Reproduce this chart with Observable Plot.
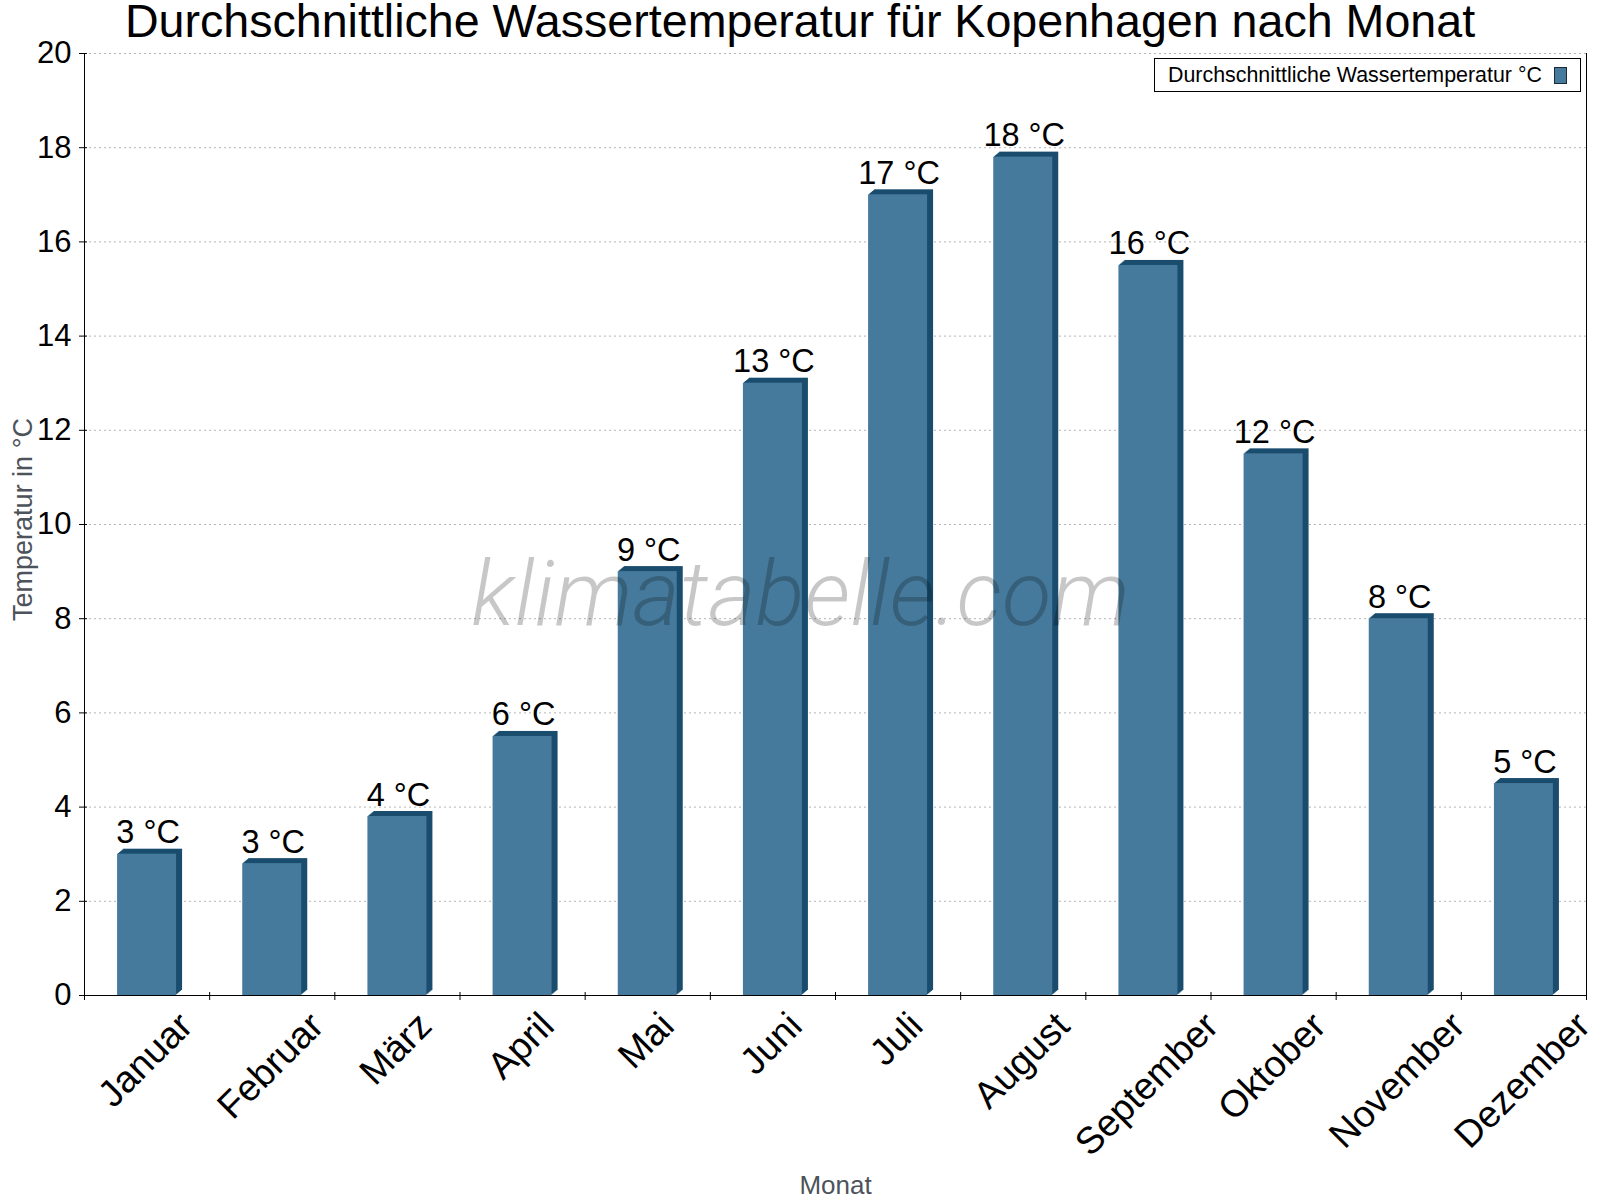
<!DOCTYPE html>
<html>
<head>
<meta charset="utf-8">
<script src="https://cdn.jsdelivr.net/npm/d3@7"></script>
<script src="https://cdn.jsdelivr.net/npm/@observablehq/plot@0.6"></script>
<style>
html, body { margin: 0; padding: 0; background: #fff; }
#wrap { position: relative; width: 1600px; height: 1200px; font-family: "Liberation Sans", Arial, Helvetica, sans-serif; }
#title { position: absolute; left: 0; top: 0; width: 1600px; text-align: center; font-size: 46.6px; line-height: 42px; color: #000; z-index: 2; white-space: nowrap; }
#chart { position: absolute; left: 0; top: 0; }
#legend { position: absolute; left: 1154px; top: 58px; width: 427px; height: 34px; box-sizing: border-box; border: 1px solid #000; background: #fff; display: flex; align-items: center; justify-content: space-between; padding: 0 13px 0 13px; font-size: 21.4px; color: #000; z-index: 2; }
#legend .sw { width: 13px; height: 17px; box-sizing: border-box; background: #467a9c; border: 1px solid #1b2a35; }
</style>
</head>
<body>
<div id="wrap">
  <div id="title"></div>
  <div id="chart"></div>
  <div id="legend"><span id="legtext"></span><span class="sw"></span></div>
</div>
<script>
const titleText = "Durchschnittliche Wassertemperatur für Kopenhagen nach Monat";
const seriesName = "Durchschnittliche Wassertemperatur °C";
const yLabel = "Temperatur in °C";
const xLabel = "Monat";
const watermark = "klimatabelle.com";
const months = ["Januar", "Februar", "März", "April", "Mai", "Juni", "Juli", "August", "September", "Oktober", "November", "Dezember"];
const waterTemp = [3.0, 2.8, 3.8, 5.5, 9.0, 13.0, 17.0, 17.8, 15.5, 11.5, 8.0, 4.5];
const yTicks = [0, 2, 4, 6, 8, 10, 12, 14, 16, 18, 20];

const frontColor = "#467a9c";
const sideColor = "#1a4c6e";
const axisTextColor = "#4d535a";
const monthFont = 37.5;

document.getElementById("title").textContent = titleText;
document.getElementById("legtext").textContent = seriesName;

const data = months.map((m, i) => ({month: m, temp: waterTemp[i]}));

const W = 1600, H = 1200, mL = 84, mR = 14, mT = 53, mB = 205;
const bw = (W - mL - mR) / months.length;
const inset = (bw - 59) / 2;

const depthSteps = [1, 2, 3, 4, 5, 6];

const chart = Plot.plot({
  width: W,
  height: H,
  marginLeft: mL,
  marginRight: mR,
  marginTop: mT,
  marginBottom: mB,
  style: {fontFamily: '"Liberation Sans", Arial, Helvetica, sans-serif', background: "transparent", color: "#000", overflow: "visible"},
  x: {domain: months, padding: 0, round: false, axis: null},
  y: {domain: [0, 20], axis: null},
  marks: [
    Plot.gridY({ticks: yTicks, stroke: "#b4b4b4", strokeOpacity: 1, strokeDasharray: "2,3"}),
    ...depthSteps.map(k => Plot.barY(data, {x: "month", y: "temp", fill: sideColor, insetLeft: inset, insetRight: inset, dx: k, dy: -k * 5 / 6})),
    Plot.barY(data, {x: "month", y: "temp", fill: frontColor, insetLeft: inset, insetRight: inset}),
    Plot.ruleY([0], {stroke: "#000"}),
    Plot.ruleX([months[0]], {x: d => d, dx: -bw / 2, insetBottom: -5, stroke: "#000"}),
    Plot.ruleX([months[months.length - 1]], {x: d => d, dx: bw / 2, insetBottom: -5, stroke: "#000"}),
    Plot.axisY({ticks: yTicks, tickSize: 8, tickPadding: 8, dx: 3, fontSize: 31, label: null}),
    Plot.axisX({tickSize: 8, dy: -3, dx: -bw / 2, tickFormat: () => "", label: null}),
    Plot.text(data, {x: "month", y: "temp", text: d => `${Math.round(d.temp)} °C`, dy: -11, dx: 1, lineAnchor: "bottom", fontSize: 32.5, fill: "#000"}),
    Plot.text(months, {x: d => d, text: d => d, frameAnchor: "bottom", rotate: -45, textAnchor: "middle", lineAnchor: "middle", fontSize: monthFont, fill: "#000"}),
    Plot.text([yLabel], {text: d => d, frameAnchor: "left", rotate: -90, dx: -53, dy: -5, textAnchor: "middle", lineAnchor: "bottom", fontSize: 27, fill: axisTextColor}),
    Plot.text([xLabel], {text: d => d, frameAnchor: "bottom", dy: 198, lineAnchor: "bottom", fontSize: 26, fill: axisTextColor}),
    Plot.text([watermark], {text: d => d, frameAnchor: "middle", dx: -35, dy: 100, lineAnchor: "bottom", fontSize: 91, fontFamily: "Roboto", fontStyle: "italic", fontWeight: 300, fill: "#000", fillOpacity: 0.22})
  ]
});

document.getElementById("chart").appendChild(chart);

// centre rotated month labels on their band (the mark group already carries the half-band offset),
// with the top of each label just below the axis
const xs = chart.scale("x");
const ys = chart.scale("y");
const y0 = ys.apply(0);
const monthSet = new Set(months);
chart.querySelectorAll("text").forEach(t => {
  const name = t.textContent;
  const tr = t.getAttribute("transform") || "";
  if (!monthSet.has(name) || !tr.includes("rotate")) return;
  const len = t.getComputedTextLength();
  const cx = xs.apply(name) + 7;
  const cy = y0 + 23 + (len / 2 + 0.36 * monthFont) * Math.SQRT1_2;
  t.removeAttribute("x");
  t.removeAttribute("y");
  t.setAttribute("transform", `translate(${cx},${cy}) rotate(-45)`);
});
</script>
</body>
</html>
